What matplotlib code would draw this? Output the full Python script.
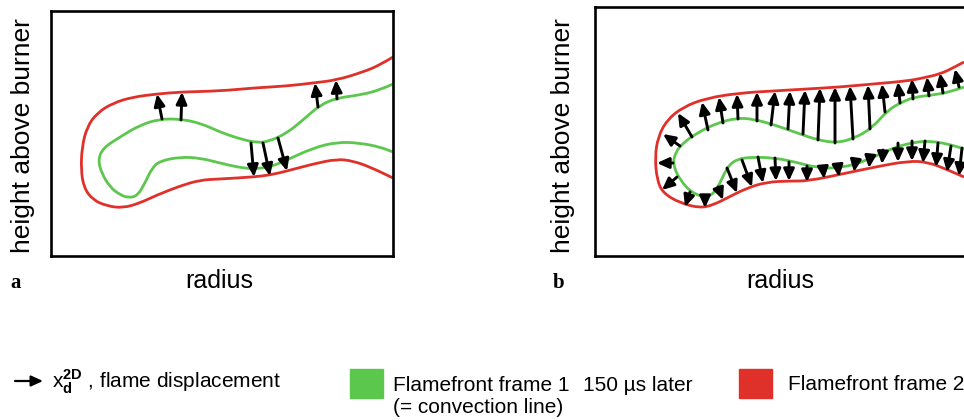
import matplotlib
matplotlib.use('Agg')
import matplotlib.pyplot as plt
from matplotlib.patches import Rectangle, PathPatch
from matplotlib.path import Path

plt.rcParams['font.family'] = ['Liberation Sans', 'DejaVu Sans']
plt.rcParams['mathtext.fontset'] = 'custom'
plt.rcParams['mathtext.rm'] = 'Liberation Sans'
plt.rcParams['mathtext.bf'] = 'Liberation Sans:bold'

# flame front traces (radius, height in picture pixels)
# panel a
a_red_x = [393, 380, 363, 337, 313, 287, 253, 220, 180, 157, 133, 113, 97, 87, 82, 81, 84, 93,
           107, 123, 140, 157, 180, 200, 220, 253, 270, 287, 313, 337, 353, 370, 393]
a_red_y = [57, 65, 72, 80, 83, 86, 88, 91, 92, 94, 97, 103, 113, 127, 147, 170, 188, 200,
           206, 208, 203, 195, 186, 180, 179, 177, 175, 171, 164, 159, 161, 167, 178]
a_green_x = [393, 380, 360, 337, 320, 303, 287, 270, 257, 237, 220, 200, 180, 160, 140, 120, 103,
             98, 102, 110, 120, 130, 138, 145, 152, 160, 180, 200, 220, 237, 253, 270, 287,
             313, 337, 360, 380, 393]
a_green_y = [84, 90, 95, 98, 105, 120, 133, 141, 143, 138, 132, 123, 119, 119, 125, 137, 148,
             160, 174, 187, 195, 198, 195, 183, 168, 161, 157, 158, 163, 167, 169, 167, 160,
             148, 142, 143, 147, 152]
# displacement arrows: tail on frame 1, head on frame 2
a_arrow_tail = [(162, 119), (181, 120), (318, 107), (337, 99), (251, 143), (263, 143), (278, 138)]
a_arrow_head = [(157, 94), (182, 92), (315, 83), (336, 80), (254, 177), (270, 176), (287, 171)]

# panel b
b_red_x = [964, 953, 940, 923, 907, 873, 840, 807, 773, 740, 707, 683, 667, 658, 655, 657, 663,
           680, 700, 713, 727, 747, 767, 790, 808, 842, 875, 908, 928, 948, 964]
b_red_y = [62, 68, 74, 78, 81, 84, 87, 89, 91, 93, 98, 107, 120, 137, 157, 180, 193,
           203, 208, 205, 198, 188, 182, 181, 181, 174, 167, 161, 162, 170, 177]
b_green_x = [964, 950, 933, 915, 902, 888, 872, 855, 837, 818, 800, 775, 753, 737, 717, 697, 683,
             675, 673, 680, 692, 707, 717, 727, 737, 753, 775, 795, 818, 842, 868, 892, 915,
             932, 952, 964]
b_green_y = [87, 92, 95, 97, 102, 110, 128, 138, 143, 140, 134, 125, 119, 118, 123, 133, 143,
             153, 165, 180, 193, 198, 190, 167, 159, 157, 158, 162, 168, 168, 160, 148, 142,
             141, 145, 149]
b_arrow_tail = [(680, 146), (673, 163), (677, 177), (690, 192), (705, 198), (718, 187), (727, 168),
                (742, 160), (758, 157), (775, 158), (789, 162), (807, 166), (823, 168), (838, 168),
                (855, 165), (870, 158), (883, 150), (898, 143), (912, 141), (925, 141), (938, 143),
                (951, 146), (962, 148),
                (692, 137), (708, 130), (723, 123), (738, 119), (757, 121), (771, 125), (788, 129),
                (803, 134), (818, 140), (835, 143), (853, 139), (870, 129), (885, 112), (900, 103),
                (913, 99), (929, 96), (943, 93), (959, 87)]
b_arrow_head = [(663, 134), (657, 163), (662, 190), (685, 207), (705, 208), (723, 200), (737, 193),
                (752, 187), (763, 183), (776, 181), (789, 181), (807, 182), (824, 179), (839, 177),
                (854, 172), (869, 168), (882, 164), (898, 162), (912, 161), (923, 163), (936, 167),
                (947, 172), (959, 176),
                (678, 113), (702, 102), (719, 97), (737, 94), (757, 92), (775, 91), (790, 91),
                (805, 90), (820, 88), (835, 87), (850, 86), (868, 85), (882, 84), (898, 82),
                (912, 79), (927, 77), (940, 73), (955, 69)]

RED = '#e0302a'
GREEN = '#5cc74d'
W, H = 964, 420
ARROW = dict(arrowstyle='-|>,head_length=0.7,head_width=0.32', color='black',
             lw=2.1, mutation_scale=10, shrinkA=0, shrinkB=0)

fig = plt.figure(figsize=(W / 100, H / 100), dpi=100)


def box(l, t, r, b):
    return [l / W, 1 - b / H, (r - l) / W, (b - t) / H]


def smooth_path(xs, ys):
    # quadratic bezier through the midpoints, traced points act as control points
    verts = [(xs[0], ys[0])]
    codes = [Path.MOVETO]
    for i in range(1, len(xs) - 1):
        verts += [(xs[i], ys[i]), ((xs[i] + xs[i + 1]) / 2, (ys[i] + ys[i + 1]) / 2)]
        codes += [Path.CURVE3, Path.CURVE3]
    verts.append((xs[-1], ys[-1]))
    codes.append(Path.LINETO)
    return Path(verts, codes)


def draw_panel(ax, xlim, ylim, red_x, red_y, green_x, green_y, tails, heads):
    ax.set_xlim(*xlim)
    ax.set_ylim(*ylim)
    ax.add_patch(PathPatch(smooth_path(red_x, red_y), fill=False, ec=RED, lw=2.0))
    ax.add_patch(PathPatch(smooth_path(green_x, green_y), fill=False, ec=GREEN, lw=2.0))
    for t, h in zip(tails, heads):
        ax.annotate('', xy=h, xytext=t, arrowprops=ARROW)
    ax.set_xticks([])
    ax.set_yticks([])
    for s in ax.spines.values():
        s.set_linewidth(1.9)


ax_a = fig.add_axes(box(51, 11, 393, 256))
draw_panel(ax_a, (51, 393), (256, 11), a_red_x, a_red_y, a_green_x, a_green_y,
           a_arrow_tail, a_arrow_head)
ax_b = fig.add_axes(box(595, 7, 985, 256))
draw_panel(ax_b, (595, 985), (256, 7), b_red_x, b_red_y, b_green_x, b_green_y,
           b_arrow_tail, b_arrow_head)


def ftext(x, y, s, **kw):
    fig.text(x / W, 1 - y / H, s, **kw)


# axis labels and panel letters
for xc, xr, letter, xl in [(23, 219, 'a', 10), (563, 780, 'b', 553)]:
    ftext(xc, 136, 'height above burner', rotation=90, ha='center', va='center', fontsize=19)
    ftext(xr, 288, 'radius', ha='center', va='baseline', fontsize=18)
    ftext(xl, 288, letter, ha='left', va='baseline', fontsize=15, fontweight='bold',
          family='Liberation Serif')

# legend
fig.patches.append(Rectangle((350 / W, 1 - 398 / H), 33 / W, 29 / H, color=GREEN,
                             transform=fig.transFigure, figure=fig))
fig.patches.append(Rectangle((739 / W, 1 - 398 / H), 33 / W, 29 / H, color=RED,
                             transform=fig.transFigure, figure=fig))
ax_a.annotate('', xy=(43 / W, 1 - 381 / H), xytext=(15 / W, 1 - 381 / H),
              xycoords='figure fraction', textcoords='figure fraction',
              arrowprops=dict(ARROW, lw=1.6), annotation_clip=False)
ftext(52, 388, r'$\mathrm{x}_{\mathbf{d}}^{\mathbf{2D}}$ , flame displacement',
      ha='left', va='baseline', fontsize=15)
ftext(393, 391, 'Flamefront frame 1', ha='left', va='baseline', fontsize=15)
ftext(583, 391, '150 µs later', ha='left', va='baseline', fontsize=15)
ftext(393, 413, '(= convection line)', ha='left', va='baseline', fontsize=15)
ftext(788, 390, 'Flamefront frame 2', ha='left', va='baseline', fontsize=15)

fig.savefig('out.png', dpi=100)
